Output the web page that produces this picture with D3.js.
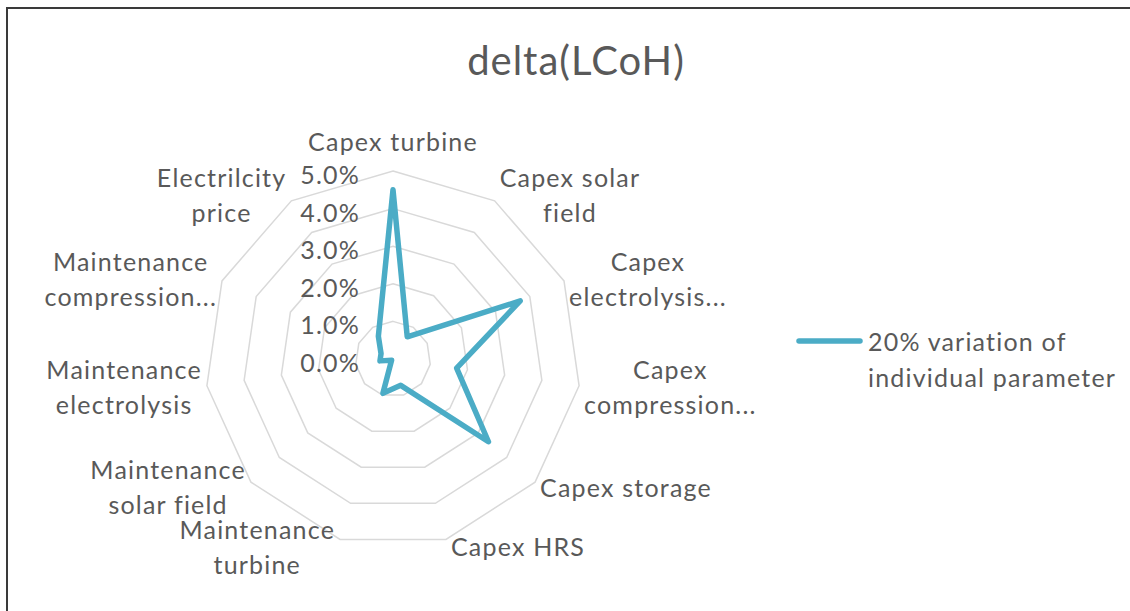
<!DOCTYPE html>
<html>
<head>
<meta charset="utf-8">
<script src="https://cdn.jsdelivr.net/npm/d3@7/dist/d3.min.js"></script>
<style>
  html, body { margin: 0; padding: 0; background: #fff; }
  svg { display: block; }
  text { font-family: Lato, "Open Sans", sans-serif; fill: #595959; }
</style>
</head>
<body>
<svg id="chart" width="1130" height="611"></svg>
<script>
const title = "delta(LCoH)";
const categories = [
  "Capex turbine", "Capex solar field", "Capex electrolysis...", "Capex compression...",
  "Capex storage", "Capex HRS", "Maintenance turbine", "Maintenance solar field",
  "Maintenance electrolysis", "Maintenance compression...", "Electrilcity price"
];
const values = [4.50, 0.70, 3.72, 1.71, 3.36, 0.73, 0.95, 0.05, 0.35, 0.35, 0.72]; // %
const tickValues = [0, 1, 2, 3, 4, 5];
const tickLabels = ["0.0%", "1.0%", "2.0%", "3.0%", "4.0%", "5.0%"];
const seriesName = "20% variation of individual parameter";

const W = 1130, H = 611;
const cx = 393, cy = 359, R = 188;
const color = "#4BACC6";
const fontSize = 25;
const letterSp = "1.2px";
const lineGap = 35;

const svg = d3.select("#chart");

// frame
svg.append("path")
  .attr("d", `M7,${H} L7,8 L${W},8`)
  .attr("fill", "none").attr("stroke", "#3a3a3a").attr("stroke-width", 2);

// title
svg.append("text")
  .attr("x", 576).attr("y", 60)
  .attr("text-anchor", "middle").attr("dominant-baseline", "central")
  .style("font-size", "40px").style("letter-spacing", "1px")
  .text(title);

const n = categories.length;
const angle = d3.scaleLinear().domain([0, n]).range([0, 2 * Math.PI]);
const r = d3.scaleLinear().domain([0, 5]).range([0, R]);

const g = svg.append("g").attr("transform", `translate(${cx},${cy})`);

// grid rings
const ringLine = d3.lineRadial().angle((d, i) => angle(i)).radius(d => d).curve(d3.curveLinearClosed);
g.selectAll(".ring").data(tickValues.filter(t => t > 0)).join("path")
  .attr("class", "ring")
  .attr("d", t => ringLine(d3.range(n).map(() => r(t))))
  .attr("fill", "none").attr("stroke", "#d9d9d9").attr("stroke-width", 1.5);

// value axis labels
g.selectAll(".tick").data(tickValues).join("text")
  .attr("class", "tick")
  .attr("x", -33).attr("y", t => -r(t) + 3)
  .attr("text-anchor", "end").attr("dominant-baseline", "central")
  .style("font-size", fontSize + "px").style("letter-spacing", letterSp)
  .text((t, i) => tickLabels[i]);

// series
const seriesLine = d3.lineRadial().angle((d, i) => angle(i)).radius(d => r(d)).curve(d3.curveLinearClosed);
g.append("path")
  .attr("d", seriesLine(values))
  .attr("fill", "none").attr("stroke", color).attr("stroke-width", 5.5)
  .attr("stroke-linejoin", "round");

// category labels
const maxLabelW = 180;
function wrapWords(str, measure) {
  const words = str.split(" ");
  const lines = [];
  let cur = "";
  words.forEach(w => {
    const test = cur ? cur + " " + w : w;
    if (cur && measure(test) > maxLabelW) { lines.push(cur); cur = w; }
    else cur = test;
  });
  if (cur) lines.push(cur);
  return lines;
}
const measurer = svg.append("text").style("font-size", fontSize + "px").style("letter-spacing", letterSp).attr("opacity", 0);
const measure = s => { measurer.text(s); return measurer.node().getComputedTextLength(); };

categories.forEach((cat, i) => {
  const a = angle(i);
  const dx = Math.sin(a), dy = -Math.cos(a);
  const vx = R * dx, vy = R * dy;
  const lines = wrapWords(cat, measure);
  const widths = lines.map(measure);
  const bw = d3.max(widths);
  const bh = lines.length * lineGap;
  let boxCx, boxCy;
  if (Math.abs(dx) < 0.1) {
    boxCx = vx;
    boxCy = vy + dy * (bh / 2 + 13);
  } else {
    const edge = vx + Math.sign(dx) * 5;
    boxCx = edge + Math.sign(dx) * bw / 2;
    boxCy = vy + dy * 7;
  }
  const t = g.append("text")
    .attr("text-anchor", "middle")
    .style("font-size", fontSize + "px").style("letter-spacing", letterSp);
  lines.forEach((ln, k) => {
    t.append("tspan")
      .attr("x", boxCx)
      .attr("y", boxCy - bh / 2 + lineGap * (k + 0.5))
      .attr("dominant-baseline", "central")
      .text(ln);
  });
});
measurer.remove();

// legend
const lg = svg.append("g").attr("transform", "translate(797,341)");
lg.append("line").attr("x1", 2).attr("x2", 63).attr("y1", 0).attr("y2", 0)
  .attr("stroke", color).attr("stroke-width", 5.5).attr("stroke-linecap", "round");
const words = seriesName.split(" ");
const legendText = lg.append("text").style("font-size", fontSize + "px").style("letter-spacing", letterSp);
[words.slice(0, 3).join(" "), words.slice(3).join(" ")].forEach((ln, k) => {
  legendText.append("tspan").attr("x", 71).attr("y", k * 36).attr("dominant-baseline", "central").text(ln);
});
</script>
</body>
</html>
